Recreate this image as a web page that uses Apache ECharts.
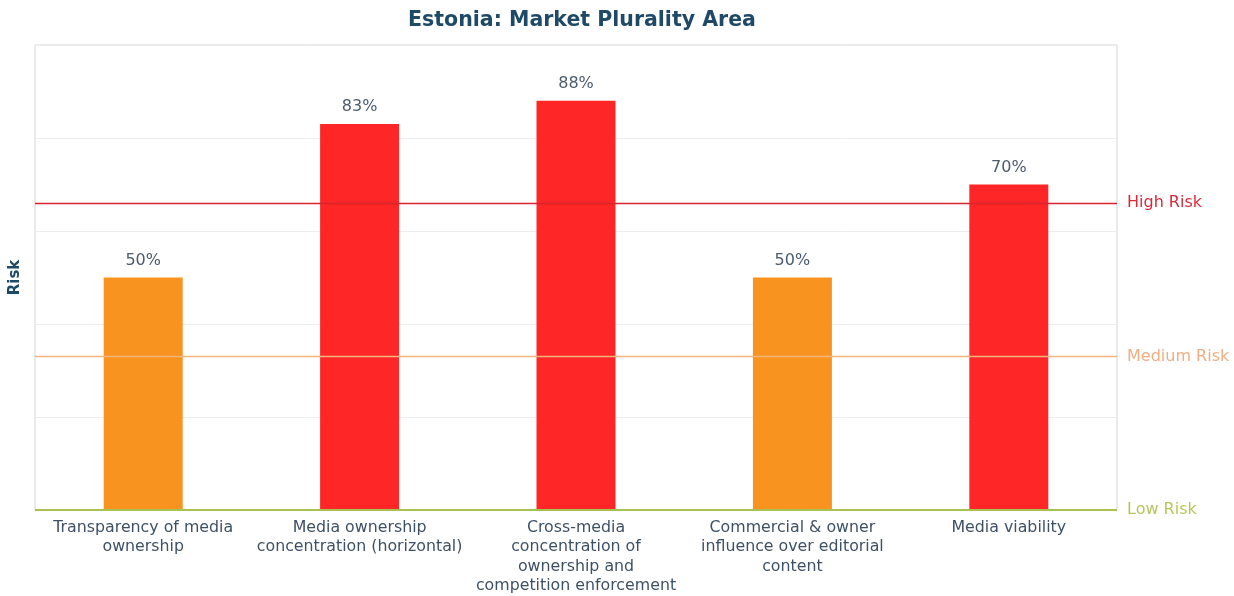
<!DOCTYPE html>
<html>
<head>
<meta charset="utf-8">
<script src="https://cdn.jsdelivr.net/npm/echarts@6/dist/echarts.min.js"></script>
<style>
  html, body { margin: 0; padding: 0; background: #fff; }
  #chart { width: 1234px; height: 596px; }
</style>
</head>
<body>
<div id="chart"></div>
<script>
const categories = [
  "Transparency of media\nownership",
  "Media ownership\nconcentration (horizontal)",
  "Cross-media\nconcentration of\nownership and\ncompetition enforcement",
  "Commercial & owner\ninfluence over editorial\ncontent",
  "Media viability"
];
const riskValues = [50, 83, 88, 50, 70];
const riskLevels = ["Low Risk", "Medium Risk", "High Risk"];
const riskThresholds = [0, 33, 66];

const ORANGE = "#f7931e";
const RED = "#fe2626";
const levelLineColors = ["#a8c24f", "#f4b47e", "#d9232e"];
const levelTextColors = ["#b4c85a", "#f0ae84", "#d92a3a"];

const barColor = (v) => (v >= riskThresholds[2] ? RED : ORANGE);

const chart = echarts.init(document.getElementById("chart"));

const option = {
  animation: false,
  textStyle: { fontFamily: "DejaVu Sans" },
  title: {
    text: "Estonia: Market Plurality Area",
    left: 577,
    textAlign: "center",
    top: 5,
    textStyle: { fontSize: 20.5, fontWeight: "bold", color: "#1e4a68", fontFamily: "DejaVu Sans" }
  },
  grid: {
    left: 35,
    right: 117,
    top: 45,
    bottom: 85,
    show: true,
    borderColor: "#cfd6dc",
    borderWidth: 1
  },
  xAxis: {
    type: "category",
    data: categories,
    axisTick: { show: false },
    axisLine: { show: false },
    axisLabel: {
      interval: 0,
      color: "#3d5166",
      fontSize: 15.8,
      lineHeight: 19.5,
      margin: 8,
      verticalAlign: "top"
    }
  },
  yAxis: {
    type: "value",
    min: 0,
    max: 100,
    interval: 20,
    name: "Risk",
    nameLocation: "middle",
    nameGap: 12,
    nameRotate: 90,
    nameTextStyle: { fontWeight: "bold", fontSize: 15, color: "#1e4a68" },
    axisLabel: { show: false },
    axisTick: { show: false },
    axisLine: { show: false },
    splitLine: { lineStyle: { color: "#ececec", width: 1 } }
  },
  series: [
    {
      type: "bar",
      barWidth: "36.5%",
      data: riskValues.map((v) => ({ value: v, itemStyle: { color: barColor(v) } })),
      label: {
        show: true,
        position: "top",
        distance: 9,
        formatter: "{c}%",
        color: "#4a5c6e",
        fontSize: 16
      },
      markLine: {
        silent: true,
        symbol: "none",
        data: riskThresholds.map((t, i) => ({
          yAxis: t,
          lineStyle: { color: levelLineColors[i], width: i === 0 ? 2 : 1.3, type: "solid" },
          label: {
            show: true,
            position: "end",
            distance: 10,
            formatter: riskLevels[i],
            color: levelTextColors[i],
            fontSize: 16
          }
        }))
      }
    }
  ]
};

chart.setOption(option);
</script>
</body>
</html>
